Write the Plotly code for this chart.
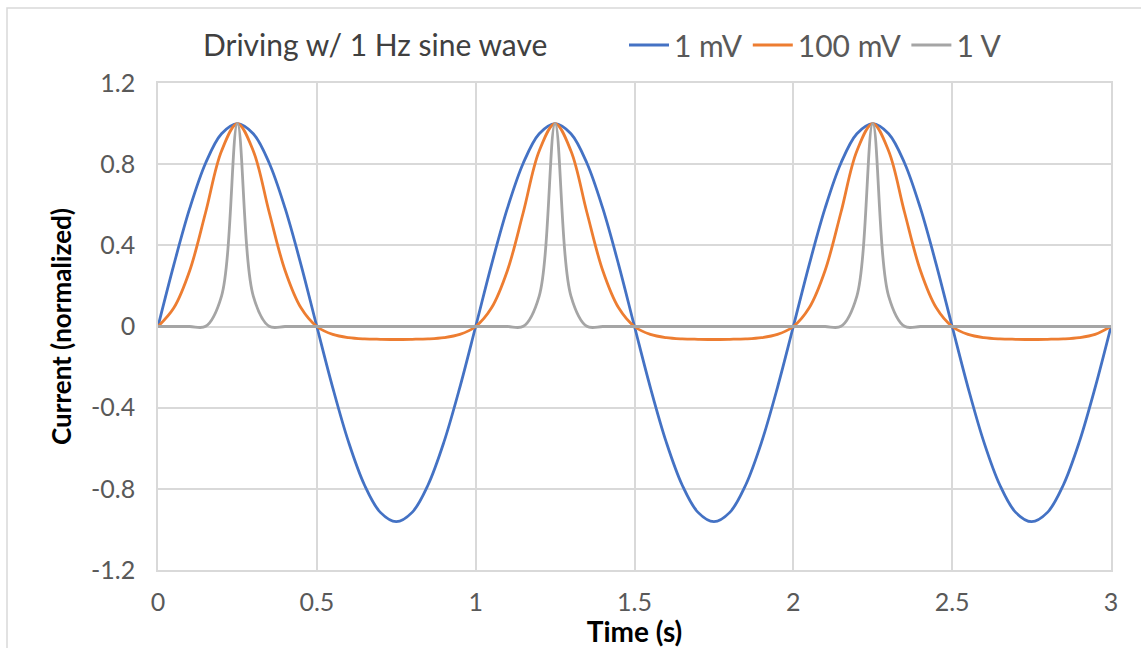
import plotly.graph_objects as go

time_s = [0.0, 0.05, 0.1, 0.15, 0.2, 0.25, 0.3, 0.35, 0.4, 0.45,
          0.5, 0.55, 0.6, 0.65, 0.7, 0.75, 0.8, 0.85, 0.9, 0.95,
          1.0, 1.05, 1.1, 1.15, 1.2, 1.25, 1.3, 1.35, 1.4, 1.45,
          1.5, 1.55, 1.6, 1.65, 1.7, 1.75, 1.8, 1.85, 1.9, 1.95,
          2.0, 2.05, 2.1, 2.15, 2.2, 2.25, 2.3, 2.35, 2.4, 2.45,
          2.5, 2.55, 2.6, 2.65, 2.7, 2.75, 2.8, 2.85, 2.9, 2.95,
          3.0]

current_1mV = [0, 0.305, 0.583, 0.806, 0.950, 1, 0.950, 0.806, 0.583, 0.305,
               0, -0.301, -0.570, -0.781, -0.916, -0.962, -0.916, -0.781, -0.570, -0.301,
               0, 0.305, 0.583, 0.806, 0.950, 1, 0.950, 0.806, 0.583, 0.305,
               0, -0.301, -0.570, -0.781, -0.916, -0.962, -0.916, -0.781, -0.570, -0.301,
               0, 0.305, 0.583, 0.806, 0.950, 1, 0.950, 0.806, 0.583, 0.305,
               0, -0.301, -0.570, -0.781, -0.916, -0.962, -0.916, -0.781, -0.570, -0.301,
               0]

current_100mV = [0, 0.092, 0.276, 0.563, 0.865, 1, 0.865, 0.563, 0.276, 0.092,
                 0, -0.039, -0.055, -0.061, -0.063, -0.064, -0.063, -0.061, -0.055, -0.039,
                 0, 0.092, 0.276, 0.563, 0.865, 1, 0.865, 0.563, 0.276, 0.092,
                 0, -0.039, -0.055, -0.061, -0.063, -0.064, -0.063, -0.061, -0.055, -0.039,
                 0, 0.092, 0.276, 0.563, 0.865, 1, 0.865, 0.563, 0.276, 0.092,
                 0, -0.039, -0.055, -0.061, -0.063, -0.064, -0.063, -0.061, -0.055, -0.039,
                 0]

current_1V = [0, 0, 0, 0.001, 0.150, 1, 0.150, 0.001, 0, 0,
              0, 0, 0, 0, 0, 0, 0, 0, 0, 0,
              0, 0, 0, 0.001, 0.150, 1, 0.150, 0.001, 0, 0,
              0, 0, 0, 0, 0, 0, 0, 0, 0, 0,
              0, 0, 0, 0.001, 0.150, 1, 0.150, 0.001, 0, 0,
              0, 0, 0, 0, 0, 0, 0, 0, 0, 0,
              0]

series_names = ["1 mV", "100 mV", "1 V"]
series_colors = ["#4472C4", "#ED7D31", "#A5A5A5"]

x_tickvals = [0, 0.5, 1, 1.5, 2, 2.5, 3]
x_ticktext = ["0", "0.5", "1", "1.5", "2", "2.5", "3"]
y_tickvals = [-1.2, -0.8, -0.4, 0, 0.4, 0.8, 1.2]
y_ticktext = ["-1.2", "-0.8", "-0.4", "0", "0.4", "0.8", "1.2"]

FONT = "Lato"
GRID = "#D9D9D9"

fig = go.Figure()
for name, ys, col in zip(series_names, [current_1mV, current_100mV, current_1V], series_colors):
    fig.add_trace(go.Scatter(x=time_s, y=ys, name=name, mode="lines",
                             line=dict(color=col, width=2.8, shape="spline", smoothing=1)))

W, H = 1141, 648
L, R, T, B = 158, 30, 83, 78
pw, ph = W - L - R, H - T - B

fig.update_layout(
    width=W, height=H,
    margin=dict(l=L, r=R, t=T, b=B, autoexpand=False),
    paper_bgcolor="white", plot_bgcolor="white",
    font=dict(family=FONT, color="#595959"),
    title=dict(text="Driving w/ 1 Hz sine wave", font=dict(family=FONT, size=30, color="#404040"),
               xref="container", yref="container", x=203 / W, xanchor="left",
               y=1 - 45 / H, yanchor="middle"),
    legend=dict(orientation="h", x=(624 - L) / pw, xanchor="left",
                y=1 + (T - 45) / ph, yanchor="middle",
                font=dict(family=FONT, size=30, color="#595959"),
                bgcolor="rgba(0,0,0,0)", itemwidth=40, tracegroupgap=0),
    showlegend=True,
    xaxis=dict(range=[0, 3], tickvals=x_tickvals, ticktext=x_ticktext,
               showgrid=True, gridcolor=GRID, gridwidth=1.5,
               showline=True, linecolor=GRID, linewidth=1.5, mirror=True,
               zeroline=False, ticks="outside", ticklen=9, tickcolor="rgba(0,0,0,0)",
               tickfont=dict(family=FONT, size=25, color="#595959"),
               title=dict(text="<b>Time (s)</b>", standoff=16,
                          font=dict(family=FONT, size=28, color="#000000")),
               automargin=False),
    yaxis=dict(range=[-1.2, 1.2], tickvals=y_tickvals, ticktext=y_ticktext,
               showgrid=True, gridcolor=GRID, gridwidth=1.5,
               showline=True, linecolor=GRID, linewidth=1.5, mirror=True,
               zeroline=True, zerolinecolor=GRID, zerolinewidth=1.5,
               ticks="outside", ticklen=16, tickcolor="rgba(0,0,0,0)",
               tickfont=dict(family=FONT, size=25, color="#595959"),
               title=dict(text="<b>Current (normalized)</b>", standoff=12,
                          font=dict(family=FONT, size=26, color="#000000")),
               automargin=False),
)

# outer chart border
fig.add_shape(type="rect", xref="paper", yref="paper",
              x0=(7 - L) / pw, x1=(1160 - L) / pw,
              y0=-(700 - (H - B)) / ph, y1=1 + (T - 8) / ph,
              line=dict(color=GRID, width=1.5), fillcolor="rgba(0,0,0,0)", layer="below")

fig.write_html("out.html", config={"displayModeBar": False},
               post_script="document.body.style.margin='0px';")
